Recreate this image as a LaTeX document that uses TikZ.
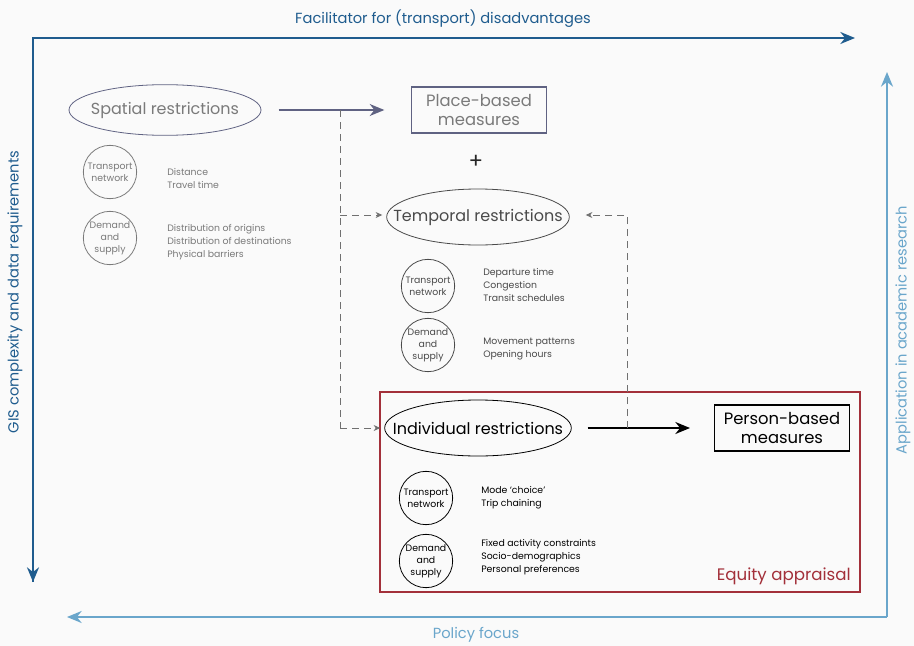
\documentclass[tikz,border=0pt]{standalone}
\usepackage{fontspec}
\setmainfont{Poppins}
\usetikzlibrary{arrows.meta,shapes.geometric}
\definecolor{navy}{HTML}{1F5C8E}
\definecolor{lblue}{HTML}{6AA6CB}
\definecolor{spgray}{HTML}{5F6282}
\definecolor{sptext}{HTML}{7A7A7A}
\definecolor{tmgray}{HTML}{4A4A4A}
\definecolor{eqred}{HTML}{A3303A}
\definecolor{dashc}{HTML}{707070}
\definecolor{bg}{HTML}{FAFAFA}
\newcommand\zwtext[1]{\makebox[0pt]{#1}}
\tikzset{
  ell/.style={ellipse, draw, line width=0.6pt, minimum width=144pt, minimum height=38pt, inner sep=0pt, font=\fontsize{12}{14}\selectfont},
  mbox/.style={rectangle, draw, line width=1pt, minimum width=101pt, minimum height=34.5pt, inner sep=0pt, align=center, font=\fontsize{12.3}{14}\selectfont},
  circ/.style={circle, draw, line width=0.6pt, minimum size=40pt, inner sep=0pt, align=center, font=\fontsize{7}{9}\selectfont},
  lst/.style={anchor=west, align=left, inner sep=0pt, font=\fontsize{7}{9.75}\selectfont},
  axlab/.style={font=\fontsize{11}{12}\selectfont},
  dsh/.style={dashc, dashed, line width=0.6pt, dash pattern=on 5pt off 4pt},
  dtip/.style={-{Stealth[length=5pt,width=4.5pt]}},
}
\begin{document}
\begin{tikzpicture}[x=0.75pt,y=-0.75pt]
\useasboundingbox (0,0) rectangle (914,646);
\fill[bg] (0,0) rectangle (914,646);

% axes
\coordinate (tl) at (33,38);
\coordinate (tr) at (855,38);
\coordinate (bl) at (33,582);
\draw[navy, line width=1.4pt, -{Stealth[length=11pt,width=9pt]}] (bl) -- (tl) -- (tr);
\draw[navy, line width=1.4pt, -{Stealth[length=11pt,width=9pt]}] (tl) -- (bl);
\node[axlab, text=navy] (fac) at (443,19) {Facilitator for (transport) disadvantages};
\node[axlab, text=navy, rotate=90] (gis) at (15,292) {GIS complexity and data requirements};

\coordinate (br) at (887,617);
\coordinate (rt) at (887,72);
\coordinate (lb) at (67,617);
\draw[lblue, line width=1.4pt, -{Stealth[length=11pt,width=9pt]}] (br) -- (rt);
\draw[lblue, line width=1.4pt, -{Stealth[length=11pt,width=9pt]}] (br) -- (lb);
\node[axlab, text=lblue, rotate=90] (app) at (903,330) {Application in academic research};
\node[axlab, text=lblue] (pol) at (476,635) {Policy focus};

% equity box
\draw[eqred, line width=1pt] (380,392) rectangle (860,592);
\node[font=\fontsize{12.5}{14}\selectfont, text=eqred, anchor=south east, inner sep=0pt] (eq) at (851,585) {Equity appraisal};

% spatial
\node[ell, draw=spgray, text=sptext] (spat) at (165,110) {\zwtext{Spatial restrictions}};
\node[mbox, draw=spgray, text=sptext] (place) at (479,110) {Place-based\\measures};
\draw[spgray, line width=1.2pt, -{Stealth[length=11pt,width=9pt]}, shorten <=13pt, shorten >=20pt] (spat) -- (place);
\node[circ, draw=sptext, text=sptext] (sp1) at (110,172) {Transport\\network};
\node[circ, draw=sptext, text=sptext] (sp2) at (110,238) {Demand\\and\\supply};
\node[lst, text=sptext] (sl1) at (167,178) {Distance\\Travel time};
\node[lst, text=sptext] (sl2) at (167,242) {Distribution of origins\\Distribution of destinations\\Physical barriers};

\node[font=\fontsize{16}{16}\selectfont, text=black!85] (plus) at (476,162) {+};

% temporal
\node[ell, draw=tmgray, text=tmgray, minimum width=137pt, minimum height=42pt] (temp) at (478,217) {\zwtext{Temporal restrictions}};
\node[circ, draw=tmgray, text=tmgray] (tm1) at (428,286) {Transport\\network};
\node[circ, draw=tmgray, text=tmgray] (tm2) at (428,345) {Demand\\and\\supply};
\node[lst, text=tmgray] (tl1) at (483,285) {Departure time\\Congestion\\Transit schedules};
\node[lst, text=tmgray] (tl2) at (483,349) {Movement patterns\\Opening hours};

% individual
\node[ell, draw=black, text=black, minimum width=140pt, minimum height=42pt] (indiv) at (478,428) {\zwtext{Individual restrictions}};
\node[mbox, draw=black, text=black] (person) at (782,428) {Person-based\\measures};
\draw[black, line width=1.2pt, -{Stealth[length=11pt,width=9pt]}, shorten <=12pt, shorten >=18pt] (indiv) -- (person);
\node[circ, draw=black, text=black] (in1) at (426,498) {Transport\\network};
\node[circ, draw=black, text=black] (in2) at (426,561) {Demand\\and\\supply};
\node[lst, text=black] (il1) at (481,498) {Mode `choice'\\Trip chaining};
\node[lst, text=black] (il2) at (481,557) {Fixed activity constraints\\Socio-demographics\\Personal preferences};

% dashed connectors
\coordinate (da) at (340,110);
\coordinate (db) at (340,215);
\coordinate (dc) at (340,428);
\coordinate (dr1) at (627,428);
\coordinate (dr2) at (627,215);
\draw[dsh] (da) -- (dc);
\draw[dsh, dtip, shorten >=3pt] (db) -- (temp.west |- db);
\draw[dsh, dtip, shorten >=3pt] (dc) -- (indiv.west |- dc);
\draw[dsh, dtip, shorten >=12pt] (dr1) -- (dr2) -- (temp.east |- dr2);
\end{tikzpicture}
\end{document}
